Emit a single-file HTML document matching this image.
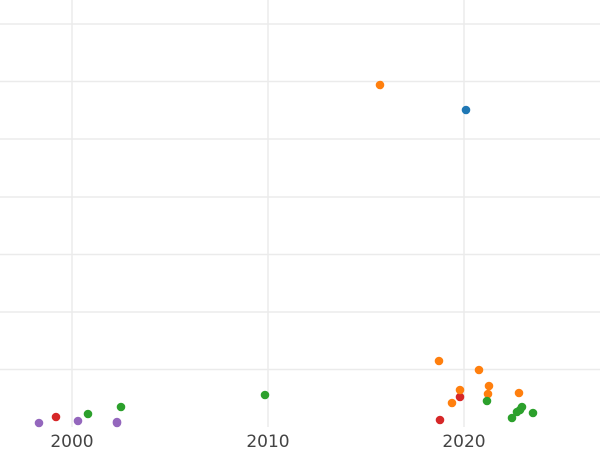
<!DOCTYPE html>
<html><head><style>body{margin:0;background:#fff}svg{display:block}</style></head><body>
<svg width="600" height="450" xmlns="http://www.w3.org/2000/svg">
<g stroke="#ebebeb" stroke-width="1.5">
<line x1="0" y1="24" x2="600" y2="24"/><line x1="0" y1="81.5" x2="600" y2="81.5"/>
<line x1="0" y1="139" x2="600" y2="139"/><line x1="0" y1="197" x2="600" y2="197"/>
<line x1="0" y1="254.5" x2="600" y2="254.5"/><line x1="0" y1="312" x2="600" y2="312"/>
<line x1="0" y1="369.5" x2="600" y2="369.5"/>
<line x1="72" y1="0" x2="72" y2="427"/><line x1="268" y1="0" x2="268" y2="427"/><line x1="464" y1="0" x2="464" y2="427"/>
</g>
<g font-family="DejaVu Sans, sans-serif" font-size="17" fill="#444" text-anchor="middle">
<text x="72" y="447">2000</text><text x="268" y="447">2010</text><text x="464" y="447">2020</text>
</g>
<g fill="#9467bd"><circle cx="39" cy="423" r="4.3"/><circle cx="78" cy="421" r="4.3"/><circle cx="117" cy="422" r="4.3"/><circle cx="117" cy="423" r="4.3"/></g>
<g fill="#d62728"><circle cx="56" cy="417" r="4.3"/><circle cx="460" cy="397" r="4.3"/><circle cx="440" cy="420" r="4.3"/></g>
<g fill="#ff7f0e"><circle cx="380" cy="85" r="4.3"/><circle cx="439" cy="361" r="4.3"/><circle cx="479" cy="370" r="4.3"/><circle cx="489" cy="386" r="4.3"/><circle cx="460" cy="390" r="4.3"/><circle cx="488" cy="394" r="4.3"/><circle cx="452" cy="403" r="4.3"/><circle cx="519" cy="393" r="4.3"/></g>
<g fill="#2ca02c"><circle cx="88" cy="414" r="4.3"/><circle cx="121" cy="407" r="4.3"/><circle cx="265" cy="395" r="4.3"/><circle cx="487" cy="401" r="4.3"/><circle cx="512" cy="418" r="4.3"/><circle cx="517" cy="412" r="4.3"/><circle cx="520" cy="410" r="4.3"/><circle cx="522" cy="407" r="4.3"/><circle cx="533" cy="413" r="4.3"/></g>
<circle cx="466" cy="110" r="4.3" fill="#1f77b4"/>
</svg>
</body></html>
